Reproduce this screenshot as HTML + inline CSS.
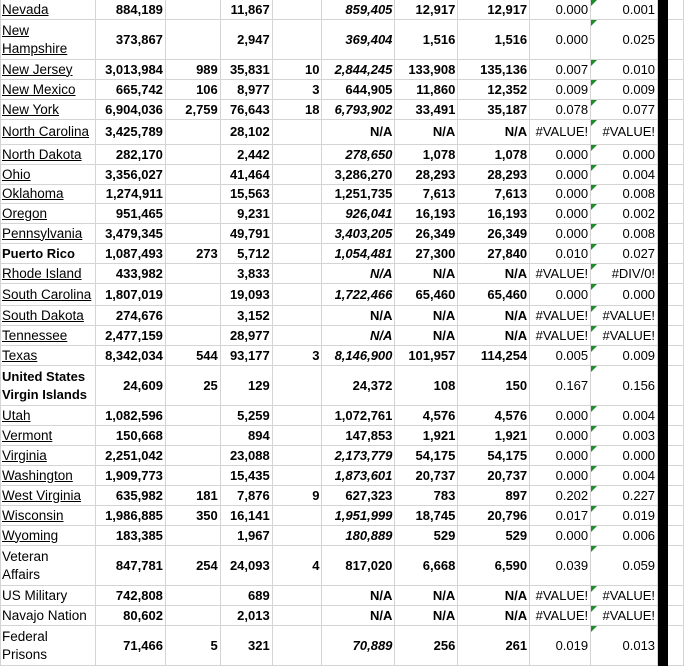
<!DOCTYPE html>
<html><head><meta charset="utf-8"><style>
body{margin:0;width:684px;height:665px;overflow:hidden;background:#fff;font-family:"Liberation Sans",Arial,sans-serif;font-size:13px;color:#000}
table{border-collapse:collapse;table-layout:fixed;position:absolute;left:0;top:-1px}
td{border:1px solid #d4d4d4;padding:0 2px;text-align:right;font-weight:bold;white-space:nowrap;overflow:hidden;line-height:18px;vertical-align:middle;position:relative}
td.a{text-align:left;font-weight:normal;text-decoration:underline;padding-left:1px;font-size:13.5px;line-height:18px}
td.a.b{font-weight:bold;text-decoration:none;font-size:13px}
td.a.p{text-decoration:none}
td.n{font-weight:normal}
td.i{font-style:italic}
td.k{background:#000;border-color:#000;padding:0}
td.g::before{content:"";position:absolute;left:0;top:0;border-top:6px solid #1e8c2a;border-right:6px solid transparent}
</style></head><body>
<table>
<colgroup><col style="width:95px"><col style="width:70px"><col style="width:55px"><col style="width:52px"><col style="width:50px"><col style="width:73px"><col style="width:63px"><col style="width:72px"><col style="width:61px"><col style="width:67px"><col style="width:10px"><col style="width:16px"></colgroup>
<tr style="height:20px"><td class="a">Nevada</td><td>884,189</td><td></td><td>11,867</td><td></td><td class="i">859,405</td><td>12,917</td><td>12,917</td><td class="n">0.000</td><td class="n g">0.001</td><td class="k"></td><td></td></tr>
<tr style="height:40px"><td class="a">New<br>Hampshire</td><td>373,867</td><td></td><td>2,947</td><td></td><td class="i">369,404</td><td>1,516</td><td>1,516</td><td class="n">0.000</td><td class="n g">0.025</td><td class="k"></td><td></td></tr>
<tr style="height:20px"><td class="a">New Jersey</td><td>3,013,984</td><td>989</td><td>35,831</td><td>10</td><td class="i">2,844,245</td><td>133,908</td><td>135,136</td><td class="n">0.007</td><td class="n g">0.010</td><td class="k"></td><td></td></tr>
<tr style="height:20px"><td class="a">New Mexico</td><td>665,742</td><td>106</td><td>8,977</td><td>3</td><td>644,905</td><td>11,860</td><td>12,352</td><td class="n">0.009</td><td class="n g">0.009</td><td class="k"></td><td></td></tr>
<tr style="height:20px"><td class="a">New York</td><td>6,904,036</td><td>2,759</td><td>76,643</td><td>18</td><td class="i">6,793,902</td><td>33,491</td><td>35,187</td><td class="n">0.078</td><td class="n g">0.077</td><td class="k"></td><td></td></tr>
<tr style="height:25px"><td class="a">North Carolina</td><td>3,425,789</td><td></td><td>28,102</td><td></td><td>N/A</td><td>N/A</td><td>N/A</td><td class="n">#VALUE!</td><td class="n g">#VALUE!</td><td class="k"></td><td></td></tr>
<tr style="height:20px"><td class="a">North Dakota</td><td>282,170</td><td></td><td>2,442</td><td></td><td class="i">278,650</td><td>1,078</td><td>1,078</td><td class="n">0.000</td><td class="n g">0.000</td><td class="k"></td><td></td></tr>
<tr style="height:20px"><td class="a">Ohio</td><td>3,356,027</td><td></td><td>41,464</td><td></td><td>3,286,270</td><td>28,293</td><td>28,293</td><td class="n">0.000</td><td class="n g">0.004</td><td class="k"></td><td></td></tr>
<tr style="height:19px"><td class="a">Oklahoma</td><td>1,274,911</td><td></td><td>15,563</td><td></td><td>1,251,735</td><td>7,613</td><td>7,613</td><td class="n">0.000</td><td class="n g">0.008</td><td class="k"></td><td></td></tr>
<tr style="height:20px"><td class="a">Oregon</td><td>951,465</td><td></td><td>9,231</td><td></td><td class="i">926,041</td><td>16,193</td><td>16,193</td><td class="n">0.000</td><td class="n g">0.002</td><td class="k"></td><td></td></tr>
<tr style="height:20px"><td class="a">Pennsylvania</td><td>3,479,345</td><td></td><td>49,791</td><td></td><td class="i">3,403,205</td><td>26,349</td><td>26,349</td><td class="n">0.000</td><td class="n g">0.008</td><td class="k"></td><td></td></tr>
<tr style="height:20px"><td class="a b">Puerto Rico</td><td>1,087,493</td><td>273</td><td>5,712</td><td></td><td class="i">1,054,481</td><td>27,300</td><td>27,840</td><td class="n">0.010</td><td class="n g">0.027</td><td class="k"></td><td></td></tr>
<tr style="height:20px"><td class="a">Rhode Island</td><td>433,982</td><td></td><td>3,833</td><td></td><td class="i">N/A</td><td>N/A</td><td>N/A</td><td class="n">#VALUE!</td><td class="n g">#DIV/0!</td><td class="k"></td><td></td></tr>
<tr style="height:22px"><td class="a">South Carolina</td><td>1,807,019</td><td></td><td>19,093</td><td></td><td class="i">1,722,466</td><td>65,460</td><td>65,460</td><td class="n">0.000</td><td class="n g">0.000</td><td class="k"></td><td></td></tr>
<tr style="height:20px"><td class="a">South Dakota</td><td>274,676</td><td></td><td>3,152</td><td></td><td>N/A</td><td>N/A</td><td>N/A</td><td class="n">#VALUE!</td><td class="n g">#VALUE!</td><td class="k"></td><td></td></tr>
<tr style="height:20px"><td class="a">Tennessee</td><td>2,477,159</td><td></td><td>28,977</td><td></td><td class="i">N/A</td><td>N/A</td><td>N/A</td><td class="n">#VALUE!</td><td class="n g">#VALUE!</td><td class="k"></td><td></td></tr>
<tr style="height:20px"><td class="a">Texas</td><td>8,342,034</td><td>544</td><td>93,177</td><td>3</td><td class="i">8,146,900</td><td>101,957</td><td>114,254</td><td class="n">0.005</td><td class="n g">0.009</td><td class="k"></td><td></td></tr>
<tr style="height:40px"><td class="a b">United States<br>Virgin Islands</td><td>24,609</td><td>25</td><td>129</td><td></td><td>24,372</td><td>108</td><td>150</td><td class="n">0.167</td><td class="n g">0.156</td><td class="k"></td><td></td></tr>
<tr style="height:20px"><td class="a">Utah</td><td>1,082,596</td><td></td><td>5,259</td><td></td><td>1,072,761</td><td>4,576</td><td>4,576</td><td class="n">0.000</td><td class="n g">0.004</td><td class="k"></td><td></td></tr>
<tr style="height:20px"><td class="a">Vermont</td><td>150,668</td><td></td><td>894</td><td></td><td>147,853</td><td>1,921</td><td>1,921</td><td class="n">0.000</td><td class="n g">0.003</td><td class="k"></td><td></td></tr>
<tr style="height:20px"><td class="a">Virginia</td><td>2,251,042</td><td></td><td>23,088</td><td></td><td class="i">2,173,779</td><td>54,175</td><td>54,175</td><td class="n">0.000</td><td class="n g">0.000</td><td class="k"></td><td></td></tr>
<tr style="height:20px"><td class="a">Washington</td><td>1,909,773</td><td></td><td>15,435</td><td></td><td class="i">1,873,601</td><td>20,737</td><td>20,737</td><td class="n">0.000</td><td class="n g">0.004</td><td class="k"></td><td></td></tr>
<tr style="height:20px"><td class="a">West Virginia</td><td>635,982</td><td>181</td><td>7,876</td><td>9</td><td>627,323</td><td>783</td><td>897</td><td class="n">0.202</td><td class="n g">0.227</td><td class="k"></td><td></td></tr>
<tr style="height:20px"><td class="a">Wisconsin</td><td>1,986,885</td><td>350</td><td>16,141</td><td></td><td class="i">1,951,999</td><td>18,745</td><td>20,796</td><td class="n">0.017</td><td class="n g">0.019</td><td class="k"></td><td></td></tr>
<tr style="height:20px"><td class="a">Wyoming</td><td>183,385</td><td></td><td>1,967</td><td></td><td class="i">180,889</td><td>529</td><td>529</td><td class="n">0.000</td><td class="n g">0.006</td><td class="k"></td><td></td></tr>
<tr style="height:40px"><td class="a p">Veteran<br>Affairs</td><td>847,781</td><td>254</td><td>24,093</td><td>4</td><td>817,020</td><td>6,668</td><td>6,590</td><td class="n">0.039</td><td class="n g">0.059</td><td class="k"></td><td></td></tr>
<tr style="height:20px"><td class="a p">US Military</td><td>742,808</td><td></td><td>689</td><td></td><td>N/A</td><td>N/A</td><td>N/A</td><td class="n">#VALUE!</td><td class="n g">#VALUE!</td><td class="k"></td><td></td></tr>
<tr style="height:20px"><td class="a p">Navajo Nation</td><td>80,602</td><td></td><td>2,013</td><td></td><td>N/A</td><td>N/A</td><td>N/A</td><td class="n">#VALUE!</td><td class="n g">#VALUE!</td><td class="k"></td><td></td></tr>
<tr style="height:40px"><td class="a p">Federal<br>Prisons</td><td>71,466</td><td>5</td><td>321</td><td></td><td class="i">70,889</td><td>256</td><td>261</td><td class="n">0.019</td><td class="n g">0.013</td><td class="k"></td><td></td></tr>
</table>
</body></html>
